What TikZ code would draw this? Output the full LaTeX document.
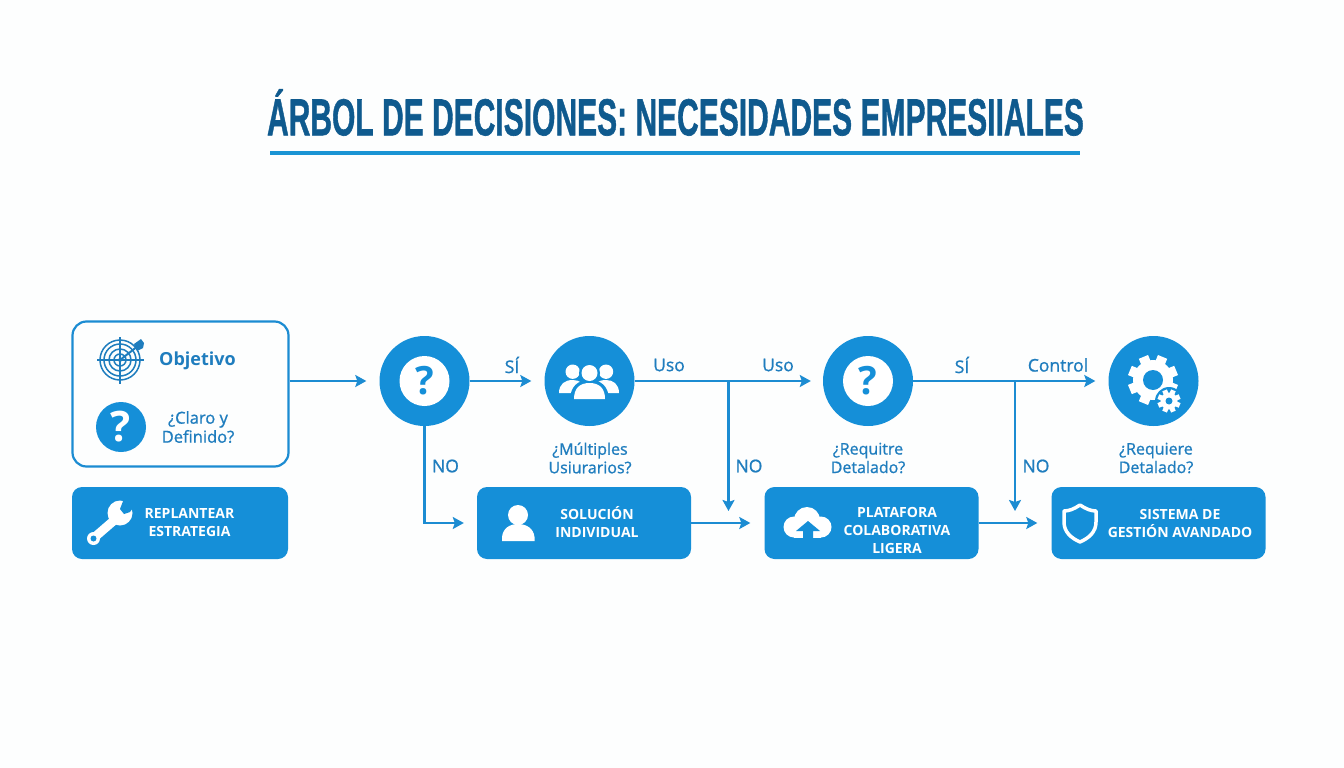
\documentclass[tikz,border=0pt]{standalone}
\usepackage{fontspec}
\setmainfont{Open Sans}
\newfontfamily\titlefont[FakeBold=1.2]{Liberation Sans}
\newfontfamily\semifont[FakeBold=1]{Open Sans}
\usetikzlibrary{arrows.meta}
\definecolor{mainblue}{HTML}{158FD8}
\definecolor{linkblue}{HTML}{1C8CD2}
\definecolor{textblue}{HTML}{1F7DBE}
\definecolor{titleblue}{HTML}{0F5A8E}
\definecolor{rulerblue}{HTML}{1A94D4}
\definecolor{paper}{HTML}{FDFEFE}
\tikzset{
  x=1pt,y=-1pt,
  round/.style={circle,fill=mainblue,minimum size=90pt,inner sep=0pt},
  hole/.style={circle,fill=white,minimum size=50pt,inner sep=0pt,text=mainblue,font=\fontsize{39}{39}\selectfont\bfseries},
  action/.style={rounded corners=10pt,fill=mainblue,minimum width=214pt,minimum height=72pt,inner sep=0pt},
  actiontext/.style={text=white,align=center,font=\fontsize{14}{18}\selectfont\bfseries},
  linklabel/.style={text=textblue,font=\fontsize{17.5}{19}\selectfont\semifont,inner sep=0pt},
  caption/.style={text=textblue,align=center,font=\fontsize{16}{18.5}\selectfont\semifont,inner sep=0pt},
  flow/.style={draw=linkblue,line width=2.1pt,-{Stealth[length=11pt,width=12pt,inset=2pt]}},
}
\newcommand{\gearicon}[6]{%
  \fill[white] (#1,#2) circle[radius=#4];
  \foreach \a in {0,45,...,135}{
    \fill[white,rotate around={\a+22.5:(#1,#2)}] (#1-#6,#2-#3) rectangle (#1+#6,#2+#3);
  }
  \fill[mainblue] (#1,#2) circle[radius=#5];
}
\begin{document}
\begin{tikzpicture}
\useasboundingbox (0,0) rectangle (1344,768);
\fill[paper] (0,0) rectangle (1344,768);

% title
\node[text=titleblue,inner sep=0pt] (title) at (675.5,112.5)
  {\scalebox{0.577}[1]{\fontsize{52}{52}\selectfont\titlefont\bfseries ÁRBOL DE DECISIONES: NECESIDADES EMPRESIIALES}};
\fill[rulerblue] (270,151) rectangle (1080,155);

% start box
\node[draw=linkblue,line width=2.2pt,rounded corners=14pt,minimum width=216pt,minimum height=145pt,inner sep=0pt] (objbox) at (180.5,394) {};
\foreach \r in {6,11,16,20}{\draw[textblue,line width=1.5pt] (120,360) circle[radius=\r];}
\fill[textblue] (120,360) circle[radius=2];
\draw[textblue,line width=1.5pt] (97,360) -- (144,360) (120,337) -- (120,384);
\draw[textblue,line width=2pt] (120,360) -- (138,346);
\fill[textblue] (134,344) -- (141,339) -- (144,343) -- (143,348) -- (137,351) -- cycle;
\node[text=textblue,inner sep=0pt,font=\fontsize{18}{20}\selectfont\bfseries] (objt) at (197.5,361) {Objetivo};
\node[circle,fill=mainblue,minimum size=50pt,inner sep=0pt,text=white,font=\fontsize{42}{42}\selectfont\bfseries] (objq) at (121,427) {?};
\node[caption,font=\fontsize{16.5}{19}\selectfont\semifont] (objc) at (198,427) {¿Claro y\\Definido?};

% replantear
\node[action,minimum width=216pt] (repl) at (180,523) {};
\node[actiontext] (replt) at (189.5,523) {REPLANTEAR\\ESTRATEGIA};
\draw[white,line width=9pt] (96,536) -- (118,517);
\fill[white] (93.5,538.5) circle[radius=6.5];
\fill[mainblue] (93.5,538.5) circle[radius=3];
\fill[white] (120,513) circle[radius=12.5];
\fill[mainblue] (120,509) -- (125,496) -- (138,501) -- (130,512) -- (124,514) -- cycle;

% decision circles
\node[round] (c1) at (424.5,381) {};
\node[hole] (c1q) at (424.5,381) {?};
\node[round] (c2) at (589.5,381) {};
\node[round] (c3) at (868,381) {};
\node[hole] (c3q) at (868,381) {?};
\node[round] (c4) at (1153.5,381) {};

% people
\begin{scope}
\fill[white] (572.7,371.7) circle[radius=7.2];
\fill[white] (606,371.7) circle[radius=7.2];
\fill[white] (559,393) .. controls (559,384) and (565,380) .. (572.7,380) .. controls (580,380) and (586,384) .. (586,393) -- cycle;
\fill[white] (592,393) .. controls (592,384) and (598,380) .. (606,380) .. controls (613,380) and (619,384) .. (619,393) -- cycle;
\fill[mainblue] (589.5,373) circle[radius=10.5];
\fill[mainblue] (570,401) .. controls (570,386) and (578,380) .. (589.5,380) .. controls (601,380) and (609,386) .. (609,401) -- cycle;
\fill[white] (589.5,373) circle[radius=8];
\fill[white] (574,399) .. controls (574,388) and (580,383) .. (589.5,383) .. controls (599,383) and (605,388) .. (605,399) -- cycle;
\end{scope}

% gears
\gearicon{1153}{380}{25}{20}{10}{5}
\fill[mainblue] (1169,401) circle[radius=14];
\gearicon{1169}{401}{11.5}{8.5}{3.5}{2.5}

% actions
\node[action] (sol) at (584,523) {};
\node[actiontext] (solt) at (597,522) {SOLUCIÓN\\INDIVIDUAL};
\fill[white] (518,515) circle[radius=10];
\fill[white] (502,541) -- (502,537) .. controls (503,528) and (510,524) .. (518,524) .. controls (526,524) and (533.5,528) .. (534.5,537) -- (534.5,541) -- cycle;

\node[action] (pla) at (871.5,523) {};
\node[actiontext] (plat) at (897,530) {PLATAFORA\\COLABORATIVA\\LIGERA};
\fill[white] (794,527) circle[radius=10.5] (807,520) circle[radius=13] (821,527) circle[radius=10.5];
\fill[white] (794,527) rectangle (821,537.5);
\fill[mainblue] (808,521) -- (820,531) -- (813,531) -- (813,538) -- (803,538) -- (803,531) -- (796,531) -- cycle;

\node[action] (sis) at (1158.5,523) {};
\node[actiontext] (sist) at (1180,523) {SISTEMA DE\\GESTIÓN AVANDADO};
\draw[white,line width=3.5pt,line join=round] (1080,505) .. controls (1086,509) and (1091,511) .. (1096,511) -- (1096,522) .. controls (1096,532) and (1089,538) .. (1080,542) .. controls (1071,538) and (1064,532) .. (1064,522) -- (1064,511) .. controls (1069,511) and (1074,509) .. (1080,505) -- cycle;

% captions
\node[caption] (cap2) at (590,458) {¿Múltiples\\Usiurarios?};
\node[caption] (cap3) at (868,458) {¿Requitre\\Detalado?};
\node[caption] (cap4) at (1156,458) {¿Requiere\\Detalado?};

% junctions
\coordinate (j1) at (728.5,381);
\coordinate (j1end) at (728.5,511);
\coordinate (j2) at (1015,381);
\coordinate (j2end) at (1015,511);

% connectors
\draw[flow,shorten >=13pt] (objbox.east |- c1.west) -- (c1.west);
\draw[flow,shorten >=13pt] (c1.east) -- (c2.west);
\draw[flow,shorten >=13pt] (c1.south) |- (sol.west);
\draw[flow,shorten >=12pt] (c2.east) -- (c3.west);
\draw[flow] (j1) -- (j1end);
\draw[flow,shorten >=14pt] (sol.east) -- (pla.west);
\draw[flow,shorten >=13pt] (c3.east) -- (c4.west);
\draw[flow] (j2) -- (j2end);
\draw[flow,shorten >=14pt] (pla.east) -- (sis.west);

% connector labels
\node[linklabel] (l1) at (512,365) {SÍ};
\node[linklabel] (l2) at (669,365) {Uso};
\node[linklabel] (l3) at (778,365) {Uso};
\node[linklabel] (l4) at (962,365) {SÍ};
\node[linklabel] (l5) at (1058,365) {Control};
\node[linklabel] (n1) at (445.5,466) {NO};
\node[linklabel] (n2) at (749,466) {NO};
\node[linklabel] (n3) at (1036,466) {NO};
\end{tikzpicture}
\end{document}
